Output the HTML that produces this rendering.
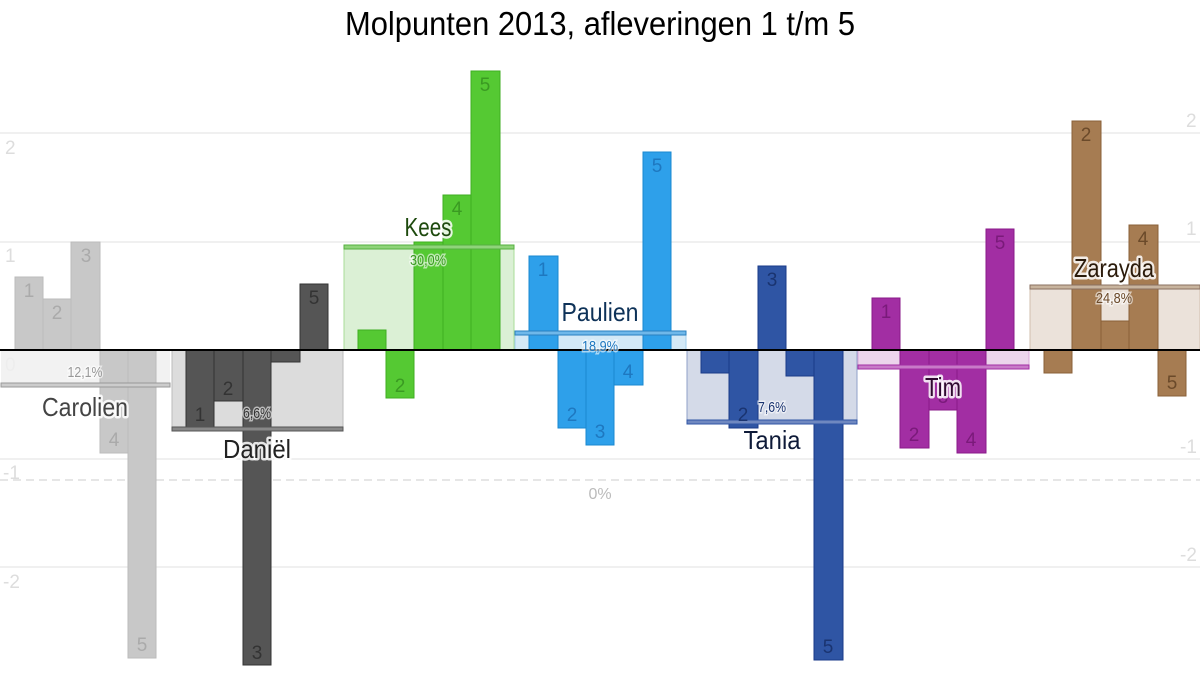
<!DOCTYPE html>
<html><head><meta charset="utf-8"><style>
html,body{margin:0;padding:0;background:#fff;}
svg{display:block;font-family:"Liberation Sans Narrow","Liberation Sans",sans-serif;}
.n{font-size:19px;text-anchor:middle;}
.nm{font-size:26px;text-anchor:middle;stroke:#fff;stroke-width:5px;stroke-opacity:.85;paint-order:stroke;stroke-linejoin:round;}
.pc{font-size:15px;text-anchor:middle;stroke:#fff;stroke-width:3px;stroke-opacity:.6;paint-order:stroke;}
.ax{font-size:19px;fill:#ddd;}
</style></head><body>
<svg width="1200" height="700" viewBox="0 0 1200 700" xmlns="http://www.w3.org/2000/svg">
<text x="600" y="35" font-size="33" text-anchor="middle" textLength="510" lengthAdjust="spacingAndGlyphs" fill="#000">Molpunten 2013, afleveringen 1 t/m 5</text>
<g stroke="#e2e2e2" stroke-width="1">
<line x1="0" y1="133" x2="1200" y2="133"/><line x1="0" y1="242" x2="1200" y2="242"/>
<line x1="0" y1="459" x2="1200" y2="459"/><line x1="0" y1="567" x2="1200" y2="567"/>
</g>
<line x1="0" y1="480" x2="1200" y2="480" stroke="#ccc" stroke-dasharray="8,5"/>
<g class="ax">
<text x="5" y="154">2</text><text x="5" y="262">1</text><text x="5" y="371">0</text><text x="3" y="479">-1</text><text x="3" y="588">-2</text>
<text x="1186" y="127">2</text><text x="1186" y="235">1</text><text x="1186" y="344">0</text><text x="1180" y="453">-1</text><text x="1180" y="561">-2</text>
</g>
<rect x="1" y="350" width="169" height="35" fill="#f0f0f0" opacity=".85"/>
<rect x="172" y="350" width="171" height="80" fill="#dcdcdc" stroke="#bbb"/>
<rect x="344" y="246" width="170" height="104" fill="#dbf0d5" stroke="#a8dc98"/>
<rect x="515" y="333" width="171" height="17" fill="#d3e9f7" stroke="#9fcdee"/>
<rect x="687" y="350" width="170" height="72" fill="#d4dae8" stroke="#8fa0c8"/>
<rect x="858" y="350" width="171" height="16" fill="#ecd5ec" stroke="#d8a8d8"/>
<rect x="1030" y="287" width="170" height="63" fill="#ebe2da" stroke="#d0bfae"/>
<g fill="#c8c8c8" stroke="#bbb">
<rect x="15" y="277" width="28" height="73"/><rect x="43" y="299" width="28" height="51"/><rect x="71" y="242" width="29" height="108"/><rect x="100" y="350" width="28" height="103"/><rect x="128" y="350" width="28" height="308"/></g>
<g fill="#555" stroke="#333">
<rect x="186" y="350" width="28" height="77"/><rect x="214" y="350" width="29" height="51"/><rect x="243" y="350" width="28" height="315"/><rect x="271" y="350" width="29" height="12"/><rect x="300" y="284" width="28" height="66"/></g>
<g fill="#55c933" stroke="#3fae22">
<rect x="358" y="330" width="28" height="20"/><rect x="386" y="350" width="28" height="48"/><rect x="414" y="242" width="29" height="108"/><rect x="443" y="195" width="28" height="155"/><rect x="471" y="71" width="29" height="279"/></g>
<g fill="#2ea0ea" stroke="#1a88d0">
<rect x="529" y="256" width="29" height="94"/><rect x="558" y="350" width="28" height="78"/><rect x="586" y="350" width="28" height="95"/><rect x="614" y="350" width="29" height="35"/><rect x="643" y="152" width="28" height="198"/></g>
<g fill="#2f55a4" stroke="#1a3a88">
<rect x="701" y="350" width="28" height="23"/><rect x="729" y="350" width="29" height="78"/><rect x="758" y="266" width="28" height="84"/><rect x="786" y="350" width="28" height="26"/><rect x="814" y="350" width="29" height="310"/></g>
<g fill="#a22ea3" stroke="#8a1a8a">
<rect x="872" y="298" width="28" height="52"/><rect x="900" y="350" width="29" height="98"/><rect x="929" y="350" width="28" height="60"/><rect x="957" y="350" width="29" height="103"/><rect x="986" y="229" width="28" height="121"/></g>
<g fill="#a67c52" stroke="#8a6038">
<rect x="1044" y="350" width="28" height="23"/><rect x="1072" y="121" width="29" height="229"/><rect x="1101" y="321" width="28" height="29"/><rect x="1129" y="225" width="29" height="125"/><rect x="1158" y="350" width="28" height="46"/></g>
<rect x="1" y="383" width="169" height="4" fill="#ccc" stroke="#999"/>
<rect x="172" y="427" width="171" height="4" fill="#888" stroke="#555"/>
<rect x="344" y="245" width="170" height="4" fill="#8fd47a" stroke="#55b040"/>
<rect x="515" y="331" width="171" height="4" fill="#6fb8ea" stroke="#2a80c0"/>
<rect x="687" y="420" width="170" height="4" fill="#6f88c0" stroke="#2f55a4"/>
<rect x="858" y="365" width="171" height="4" fill="#c87ac8" stroke="#a22ea3"/>
<rect x="1030" y="285" width="170" height="4" fill="#c8b49e" stroke="#8a7060"/>
<line x1="0" y1="350" x2="1200" y2="350" stroke="#000" stroke-width="2"/>
<g class="n" fill="#aaa"><text x="29" y="297">1</text><text x="57" y="319">2</text><text x="86" y="262">3</text><text x="114" y="446">4</text><text x="142" y="651">5</text></g>
<g class="n" fill="#333"><text x="200" y="421">1</text><text x="228" y="395">2</text><text x="257" y="659">3</text><text x="314" y="304">5</text></g>
<g class="n" fill="#3a9a22"><text x="400" y="392">2</text><text x="457" y="215">4</text><text x="485" y="91">5</text></g>
<g class="n" fill="#1e78c0"><text x="543" y="276">1</text><text x="572" y="421">2</text><text x="600" y="438">3</text><text x="628" y="378">4</text><text x="657" y="172">5</text></g>
<g class="n" fill="#1a3470"><text x="743" y="421">2</text><text x="772" y="286">3</text><text x="828" y="653">5</text></g>
<g class="n" fill="#7a1a7a"><text x="886" y="318">1</text><text x="914" y="441">2</text><text x="943" y="403">3</text><text x="971" y="446">4</text><text x="1000" y="249">5</text></g>
<g class="n" fill="#6b4a2a"><text x="1086" y="141">2</text><text x="1143" y="245">4</text><text x="1172" y="389">5</text></g>
<text class="pc" x="85" y="377" fill="#999" textLength="35" lengthAdjust="spacingAndGlyphs">12,1%</text>
<text class="pc" x="257" y="418" fill="#333" textLength="28" lengthAdjust="spacingAndGlyphs">6,6%</text>
<text class="pc" x="428" y="265" fill="#3a9a22" textLength="36" lengthAdjust="spacingAndGlyphs">30,0%</text>
<text class="pc" x="600" y="351" fill="#1e78c0" textLength="36" lengthAdjust="spacingAndGlyphs">18,9%</text>
<text class="pc" x="772" y="412" fill="#1a3470" textLength="28" lengthAdjust="spacingAndGlyphs">7,6%</text>
<text class="pc" x="1114" y="303" fill="#6b4a2a" textLength="36" lengthAdjust="spacingAndGlyphs">24,8%</text>
<text x="600" y="499" font-size="16" text-anchor="middle" fill="#bbb">0%</text>
<text class="nm" x="85" y="416" fill="#444" textLength="86" lengthAdjust="spacingAndGlyphs">Carolien</text>
<text class="nm" x="257" y="458" fill="#222" textLength="68" lengthAdjust="spacingAndGlyphs">Daniël</text>
<text class="nm" x="428" y="236" fill="#1e4a0e" textLength="47" lengthAdjust="spacingAndGlyphs">Kees</text>
<text class="nm" x="600" y="321" fill="#0e3258" textLength="77" lengthAdjust="spacingAndGlyphs">Paulien</text>
<text class="nm" x="772" y="449" fill="#0e1a38" textLength="57" lengthAdjust="spacingAndGlyphs">Tania</text>
<text class="nm" x="943" y="396" fill="#300a30" textLength="36" lengthAdjust="spacingAndGlyphs">Tim</text>
<text class="nm" x="1114" y="277" fill="#2a1a0a" textLength="80" lengthAdjust="spacingAndGlyphs">Zarayda</text>
</svg>
</body></html>
